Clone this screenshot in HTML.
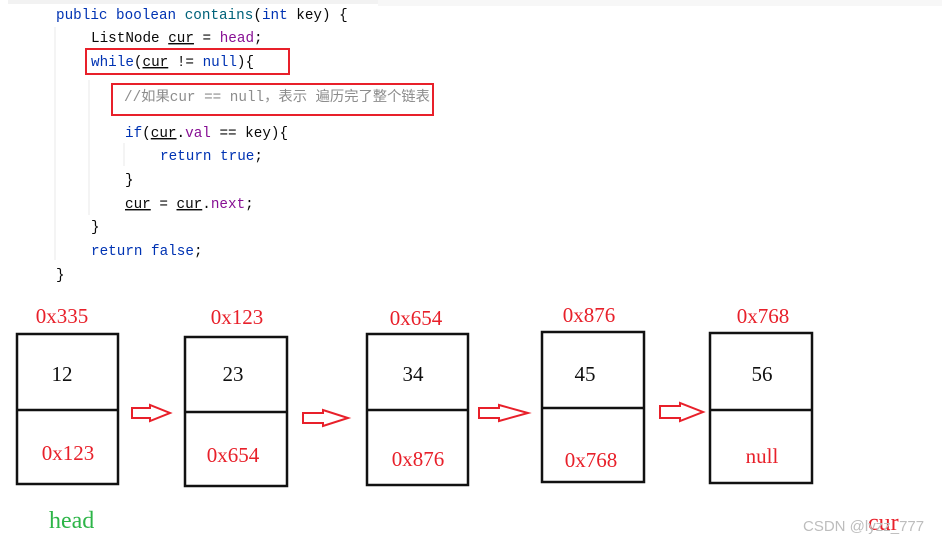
<!DOCTYPE html>
<html><head><meta charset="utf-8"><style>
body{margin:0;background:#fff;}
svg{display:block}
.c{font-family:"Liberation Mono","Noto Sans CJK SC",monospace;font-size:14.3px;}
.s{font-family:"Liberation Serif",serif;font-size:21px;}
</style></head><body>
<svg width="942" height="540" viewBox="0 0 942 540" xmlns="http://www.w3.org/2000/svg">
<rect x="8" y="0" width="370" height="4" fill="#f2f2f2"/>
<rect x="378" y="0" width="564" height="6" fill="#f7f7f7"/>
<line x1="55" y1="27" x2="55" y2="260" stroke="#e8e8e8"/>
<line x1="89" y1="80" x2="89" y2="215" stroke="#e8e8e8"/>
<line x1="124" y1="143" x2="124" y2="166" stroke="#e8e8e8"/>
<g class="c">
<text x="56" y="19"><tspan fill="#0033b3">public boolean </tspan><tspan fill="#00627a">contains</tspan><tspan fill="#080808">(</tspan><tspan fill="#0033b3">int </tspan><tspan fill="#080808">key) {</tspan></text>
<text x="91" y="42" fill="#080808">ListNode <tspan text-decoration="underline">cur</tspan> = <tspan fill="#871094">head</tspan>;</text>
<text x="91" y="66" fill="#080808"><tspan fill="#0033b3">while</tspan>(<tspan text-decoration="underline">cur</tspan> != <tspan fill="#0033b3">null</tspan>){</text>
<text x="124" y="101" fill="#8c8c8c">//如果cur == null，表示 遍历完了整个链表</text>
<text x="125" y="137" fill="#080808"><tspan fill="#0033b3">if</tspan>(<tspan text-decoration="underline">cur</tspan>.<tspan fill="#871094">val</tspan> == key){</text>
<text x="160" y="160" fill="#0033b3">return true<tspan fill="#080808">;</tspan></text>
<text x="125" y="184" fill="#080808">}</text>
<text x="125" y="208" fill="#080808"><tspan text-decoration="underline">cur</tspan> = <tspan text-decoration="underline">cur</tspan>.<tspan fill="#871094">next</tspan>;</text>
<text x="91" y="231" fill="#080808">}</text>
<text x="91" y="255" fill="#0033b3">return false<tspan fill="#080808">;</tspan></text>
<text x="56" y="279" fill="#080808">}</text>
</g>
<rect x="86" y="49" width="203" height="25" fill="none" stroke="#e8202a" stroke-width="2"/>
<rect x="112" y="84" width="321" height="31" fill="none" stroke="#e8202a" stroke-width="2"/>
<g fill="none" stroke="#111" stroke-width="2.5">
<rect x="17" y="334" width="101" height="150"/><line x1="17" y1="410" x2="118" y2="410"/>
<rect x="185" y="337" width="102" height="149"/><line x1="185" y1="412" x2="287" y2="412"/>
<rect x="367" y="334" width="101" height="151"/><line x1="367" y1="410" x2="468" y2="410"/>
<rect x="542" y="332" width="102" height="150"/><line x1="542" y1="408" x2="644" y2="408"/>
<rect x="710" y="333" width="102" height="150"/><line x1="710" y1="410" x2="812" y2="410"/>
</g>
<g fill="none" stroke="#e8202a" stroke-width="2">
<polygon points="132,408 150,408 150,405 170,413 150,421 150,418 132,418"/>
<polygon points="303,413 323,413 323,410 348,418 323,426 323,423 303,423"/>
<polygon points="479,408 499,408 499,405 528,413 499,421 499,418 479,418"/>
<polygon points="660,406 680,406 680,403 703,412 680,421 680,418 660,418"/>
</g>
<g class="s" fill="#e8202a" text-anchor="middle">
<text x="62" y="323">0x335</text><text x="237" y="324">0x123</text><text x="416" y="325">0x654</text>
<text x="589" y="322">0x876</text><text x="763" y="323">0x768</text>
<text x="68" y="460">0x123</text><text x="233" y="462">0x654</text><text x="418" y="466">0x876</text>
<text x="591" y="467">0x768</text><text x="762" y="463">null</text>
</g>
<g class="s" fill="#111" text-anchor="middle">
<text x="62" y="381">12</text><text x="233" y="381">23</text><text x="413" y="381">34</text>
<text x="585" y="381">45</text><text x="762" y="381">56</text>
</g>
<text x="49" y="528" font-family="Liberation Serif,serif" font-size="24" fill="#2db548">head</text>
<text x="868" y="530" font-family="Liberation Serif,serif" font-size="24" fill="#e8202a">cur</text>
<text x="803" y="531" font-family="Liberation Sans,sans-serif" font-size="15" fill="#bdbdbd">CSDN @lyzz_777</text>
</svg>
</body></html>
